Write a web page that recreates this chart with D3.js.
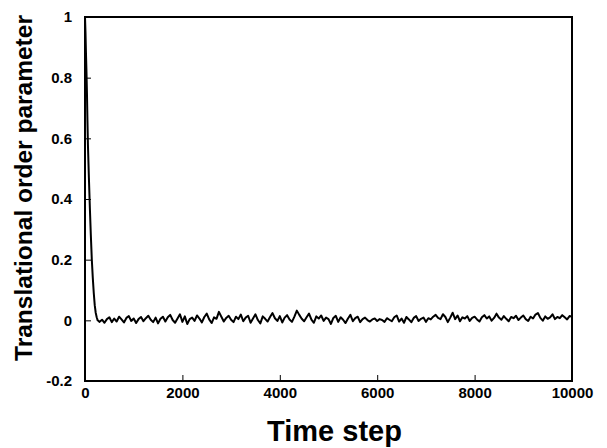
<!DOCTYPE html>
<html>
<head>
<meta charset="utf-8">
<script src="https://cdn.jsdelivr.net/npm/d3@7"></script>
<style>
  body { margin: 0; background: #fff; }
  text { font-family: "Liberation Sans", Arial, sans-serif; font-weight: bold; fill: #000; }
</style>
</head>
<body>
<svg id="chart" width="607" height="448"></svg>
<script>
// initial decay
const decaySteps  = [0, 10, 20, 30, 40, 50, 60, 80, 100, 120, 140, 160, 180, 200, 220, 240, 260];
const decayValues = [1, 0.95, 0.88, 0.82, 0.75, 0.66, 0.58, 0.47, 0.37, 0.28, 0.2, 0.14, 0.09, 0.05, 0.025, 0.01, 0.0];

// fluctuating tail, one value every 50 steps from 300 to 10000
const tailStart = 300, tailStep = 50;
const tailValues = [
  -0.005, 0.002, -0.008, 0.004, 0.01, -0.006, 0.006, -0.004, 0.012, 0.003, -0.007, 0.008, 0.014, -0.002,
  0.006, -0.009, 0.004, 0.011, -0.003, 0.007, 0.015, 0.002, -0.006, 0.009, -0.01, 0.005, 0.012, -0.004, 0.01, 0.018, 0.001, -0.008, 0.006, 0.02,
  -0.005, 0.013, -0.012, 0.004, 0.009, -0.002, 0.016, 0.006, -0.007, 0.011, 0.022, 0.003, -0.009, 0.01, 0.005, 0.028, 0.012, -0.004, 0.008, 0.015,
  0.002, -0.006, 0.012, 0.004, 0.019, -0.003, 0.009, 0.015, -0.008, 0.006, 0.02, 0.001, -0.01, 0.013, 0.005, -0.004, 0.011, 0.024, 0.007, -0.002,
  0.014, -0.007, 0.009, 0.017, 0.003, -0.005, 0.012, 0.032, 0.018, 0.005, -0.003, 0.01, 0.022, 0.002, -0.008, 0.013, 0.006, 0.016, -0.002, 0.009,
  0.004, -0.012, 0.008, 0.015, -0.005, 0.01, 0.002, -0.009, 0.006, 0.018, -0.003, 0.007, 0.012, -0.006, 0.004, 0.009, 0.001, -0.004, 0.003, 0.006,
  -0.002, 0.004, 0.001, -0.005, 0.007, 0.002, -0.003, 0.01, 0.016, -0.004, 0.006, -0.008, 0.011, 0.003, -0.006, 0.008, 0.014, -0.002, 0.005, 0.009,
  -0.005, 0.007, 0.003, 0.012, 0.018, 0.008, 0.004, 0.02, 0.011, -0.006, 0.009, 0.025, 0.004, 0.016, -0.003, 0.01, 0.006, 0.014, -0.002, 0.008,
  0.012, 0.003, -0.004, 0.01, 0.017, 0.006, 0.013, -0.001, 0.008, 0.022, 0.009, 0.002, 0.014, 0.005, -0.003, 0.011, 0.007, 0.015, 0.001, 0.009,
  0.016, 0.004, -0.002, 0.012, 0.006, 0.019, 0.024, 0.008, -0.001, 0.013, 0.005, 0.01, 0.02, 0.004, 0.011, 0.007, 0.017, 0.01, 0.003, 0.014,
  0.012
];

const xTicks = [0, 2000, 4000, 6000, 8000, 10000];
const yTicks = [-0.2, 0, 0.2, 0.4, 0.6, 0.8, 1];

const data = decaySteps.map((t, i) => ({ t, v: decayValues[i] }))
  .concat(tailValues.map((v, i) => ({ t: tailStart + i * tailStep, v })));

const margin = { top: 17, right: 35, bottom: 67, left: 85 },
  width = 607 - margin.left - margin.right,
  height = 448 - margin.top - margin.bottom;

const svg = d3.select("#chart")
  .append("g")
  .attr("transform", `translate(${margin.left}, ${margin.top})`);

const x = d3.scaleLinear().domain([0, 10000]).range([0, width]);
const y = d3.scaleLinear().domain([-0.2, 1]).range([height, 0]);

// axes with inward ticks
const xAxis = svg.append("g")
  .attr("transform", `translate(0, ${height})`)
  .call(d3.axisBottom(x).tickValues(xTicks).tickSizeInner(-6).tickSizeOuter(0).tickPadding(6)
    .tickFormat(d => String(d)));
const yAxis = svg.append("g")
  .call(d3.axisLeft(y).tickValues(yTicks).tickSizeInner(-6).tickSizeOuter(0).tickPadding(13)
    .tickFormat(d => String(+d.toFixed(1))));

[xAxis, yAxis].forEach(a => {
  a.select(".domain").remove();
  a.selectAll(".tick line").attr("stroke", "#000").attr("stroke-width", 1);
  a.selectAll(".tick text").style("font-size", "15px").attr("font-family", null);
});

// frame
svg.append("rect")
  .attr("x", 0).attr("y", 0)
  .attr("width", width).attr("height", height)
  .attr("fill", "none").attr("stroke", "#000").attr("stroke-width", 2);

// data line
svg.append("path")
  .datum(data)
  .attr("fill", "none")
  .attr("stroke", "#000")
  .attr("stroke-width", 2)
  .attr("stroke-linejoin", "round")
  .attr("d", d3.line().x(d => x(d.t)).y(d => y(d.v)));

// titles
svg.append("text")
  .attr("x", width / 2 + 6)
  .attr("y", height + 60)
  .attr("text-anchor", "middle")
  .style("font-size", "29px")
  .text("Time step");

svg.append("text")
  .attr("transform", `translate(${32 - margin.left}, ${188 - margin.top}) rotate(-90)`)
  .attr("text-anchor", "middle")
  .style("font-size", "24.5px")
  .text("Translational order parameter");
</script>
</body>
</html>
